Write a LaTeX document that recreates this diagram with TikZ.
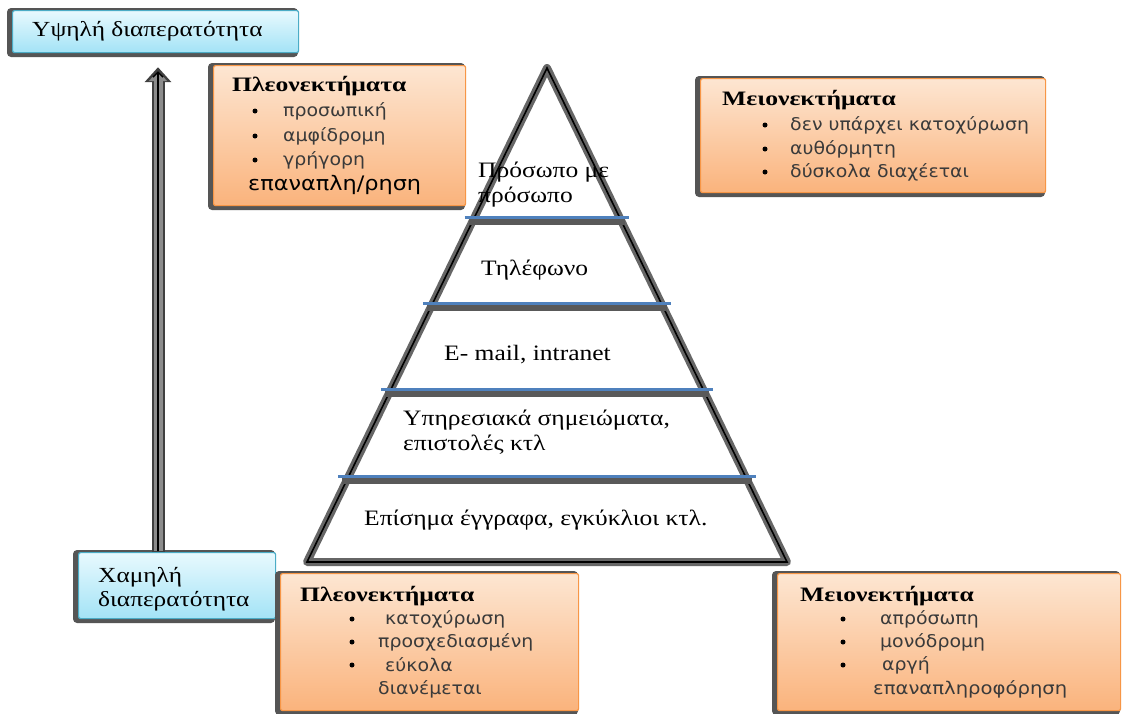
\documentclass[tikz,border=0pt]{standalone}
\usepackage{fontspec}
\setmainfont{Liberation Serif}
\newfontfamily\sansgr{DejaVu Sans}
\usetikzlibrary{arrows.meta,calc}
\definecolor{orbord}{HTML}{F79646}
\definecolor{ortop}{HTML}{FDE6D2}
\definecolor{orbot}{HTML}{FAB37C}
\definecolor{bltop}{HTML}{E8F9FE}
\definecolor{blbot}{HTML}{A3E3F6}
\definecolor{blbord}{HTML}{4BACC6}
\definecolor{shad}{HTML}{555555}
\definecolor{lineblue}{HTML}{4F81BD}
\definecolor{txtgray}{HTML}{3A3A3A}
\newcommand{\hs}[2]{\scalebox{#1}[1]{#2}}
\tikzset{
  orbox/.style={draw=orbord, line width=1.2pt, top color=ortop, bottom color=orbot, rounded corners=2pt, inner sep=0pt, anchor=north west},
  blbox/.style={draw=blbord, line width=1.2pt, top color=bltop, bottom color=blbot, rounded corners=2pt, inner sep=0pt, anchor=north west},
  shadowbox/.style={fill=shad, rounded corners=4pt},
  title/.style={anchor=west, inner sep=0pt, font=\fontsize{20.5}{23}\selectfont\bfseries},
  item/.style={anchor=west, inner sep=0pt, text=txtgray, font=\sansgr\fontsize{17.5}{20}\selectfont},
  bul/.style={circle, fill=black, inner sep=0pt, minimum size=5pt},
  ptext/.style={anchor=west, inner sep=0pt, font=\fontsize{22}{25}\selectfont},
  btext/.style={anchor=west, inner sep=0pt, font=\fontsize{21.5}{24}\selectfont},
  band/.style={line width=7pt, draw=black!65},
  bline/.style={line width=3pt, draw=lineblue},
}
\newcommand{\panel}[6]{%
  \fill[shadowbox] (#2-5,#3-2) rectangle (#4,#5+5);
  \node[#6, minimum width=#4pt-#2pt, minimum height=#5pt-#3pt] (#1) at (#2,#3) {};
}
\begin{document}
\begin{tikzpicture}[x=1pt,y=-1pt]
\useasboundingbox (0,0) rectangle (1126,713);
\fill[white] (0,0) rectangle (1126,713);

% boxes
\panel{hi}{12}{10}{298}{52}{blbox}
\panel{lo}{78}{552}{275}{618}{blbox}
\panel{plT}{213}{65}{465}{205}{orbox}
\panel{mnT}{700}{78}{1045}{192}{orbox}
\panel{plB}{280}{573}{578}{710}{orbox}
\panel{mnB}{777}{573}{1120}{710}{orbox}

\node[btext] (hiT) at (32,31) {\hs{1.18}{Υψηλή διαπερατότητα}};
\node[btext, align=left] (loT) at (98,589) {\hs{1.18}{Χαμηλή}\\[0pt]\hs{1.18}{διαπερατότητα}};

% arrow
\coordinate (ax) at (158,0);
\draw[line width=13pt, draw=black!75, -{Triangle[width=26pt,length=15pt]}]
  (lo.north -| ax) -- ($(hi.south -| ax)+(0,14)$);
\draw[line width=9pt, draw=black!45, -{Triangle[width=18pt,length=10pt]}]
  ($(lo.north -| ax)+(0,-1)$) -- ($(hi.south -| ax)+(0,18)$);
\draw[line width=1.4pt, draw=black, -{Straight Barb[width=10pt,length=5pt]}]
  ($(lo.north -| ax)+(0,-1)$) -- ($(hi.south -| ax)+(0,18)$);

% pyramid
\coordinate (A) at (547,68);
\coordinate (BL) at (307,562);
\coordinate (BR) at (787,562);
\fill[white] (A) -- (BL) -- (BR) -- cycle;
\draw[line width=8pt, draw=black!60, line join=round] (A) -- (BL) -- (BR) -- cycle;
\draw[line width=1.6pt, draw=black, line join=miter] (A) -- (BL) -- (BR) -- cycle;
\foreach \t in {0.3016,0.4757,0.6498,0.8279}{
  \draw[band] ($(A)!\t!(BL)+(-6,4)$) -- ($(A)!\t!(BR)+(6,4)$);
  \draw[bline] ($(A)!\t!(BL)+(-10,0)$) -- ($(A)!\t!(BR)+(10,0)$);
}

\node[ptext, align=left] (p1) at (478,185) {\hs{1.16}{Πρόσωπο με}\\[0pt]\hs{1.16}{πρόσωπο}};
\node[ptext] (p2) at (481,270) {\hs{1.16}{Τηλέφωνο}};
\node[ptext] (p3) at (444,355) {\hs{1.16}{E- mail, intranet}};
\node[ptext, align=left] (p4) at (403,432) {\hs{1.16}{Υπηρεσιακά σημειώματα,}\\[0pt]\hs{1.16}{επιστολές κτλ}};
\node[ptext] (p5) at (364,520) {\hs{1.16}{Επίσημα έγγραφα, εγκύκλιοι κτλ.}};

% top-left advantages
\node[title] (t1) at (232,86) {\hs{1.25}{Πλεονεκτήματα}};
\foreach \y/\n in {111/a,136/b,160/c}{\node[bul] (b1\n) at (255,\y) {};}
\node[item] (i1a) at (283,111) {\hs{1.08}{προσωπική}};
\node[item] (i1b) at (283,136) {\hs{1.08}{αμφίδρομη}};
\node[item] (i1c) at (283,160) {\hs{1.08}{γρήγορη}};
\node[item, text=black, font=\sansgr\fontsize{20}{22}\selectfont] (i1d) at (248,185) {\hs{1.12}{επαναπλη/ρηση}};

% top-right disadvantages
\node[title] (t2) at (722,100) {\hs{1.25}{Μειονεκτήματα}};
\foreach \y/\n in {125/a,149/b,172/c}{\node[bul] (b2\n) at (765,\y) {};}
\node[item] (i2a) at (790,125) {\hs{1.08}{δεν υπάρχει κατοχύρωση}};
\node[item] (i2b) at (790,149) {\hs{1.08}{αυθόρμητη}};
\node[item] (i2c) at (790,172) {\hs{1.08}{δύσκολα διαχέεται}};

% bottom-left advantages
\node[title] (t3) at (300,596) {\hs{1.25}{Πλεονεκτήματα}};
\foreach \y/\n in {619/a,642/b,665/c}{\node[bul] (b3\n) at (352,\y) {};}
\node[item] (i3a) at (385,619) {\hs{1.08}{κατοχύρωση}};
\node[item] (i3b) at (378,642) {\hs{1.08}{προσχεδιασμένη}};
\node[item] (i3c) at (385,665) {\hs{1.08}{εύκολα}};
\node[item] (i3d) at (378,689) {\hs{1.08}{διανέμεται}};

% bottom-right disadvantages
\node[title] (t4) at (800,596) {\hs{1.25}{Μειονεκτήματα}};
\foreach \y/\n in {619/a,642/b,665/c}{\node[bul] (b4\n) at (843,\y) {};}
\node[item] (i4a) at (880,619) {\hs{1.08}{απρόσωπη}};
\node[item] (i4b) at (880,642) {\hs{1.08}{μονόδρομη}};
\node[item] (i4c) at (882,665) {\hs{1.08}{αργή}};
\node[item] (i4d) at (873,689) {\hs{1.12}{επαναπληροφόρηση}};
\end{tikzpicture}
\end{document}
